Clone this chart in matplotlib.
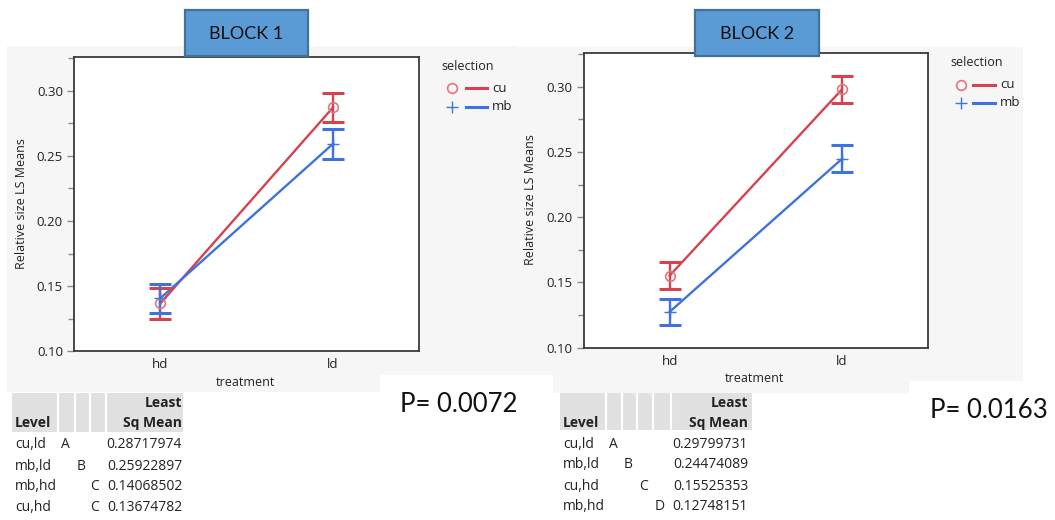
import matplotlib
matplotlib.use("Agg")
import matplotlib.pyplot as plt
from matplotlib.patches import Rectangle
from matplotlib.lines import Line2D
from matplotlib.ticker import MultipleLocator

# ---------------- data ----------------
treatments = ["hd", "ld"]
selections = ["cu", "mb"]

block1_cu = [0.13674782, 0.28717974]
block1_mb = [0.14068502, 0.25922897]
block1_cu_err = [0.0117, 0.0113]
block1_mb_err = [0.0110, 0.0115]

block2_cu = [0.15525353, 0.29799731]
block2_mb = [0.12748151, 0.24474089]
block2_cu_err = [0.0105, 0.0103]
block2_mb_err = [0.0100, 0.0103]

block_titles = ["BLOCK 1", "BLOCK 2"]
p_values = ["P= 0.0072", "P= 0.0163"]

table1_levels = ["cu,ld", "mb,ld", "mb,hd", "cu,hd"]
table1_letters = ["A", "B", "C", "C"]
table1_letter_col = [0, 1, 2, 2]
table1_means = [0.28717974, 0.25922897, 0.14068502, 0.13674782]

table2_levels = ["cu,ld", "mb,ld", "cu,hd", "mb,hd"]
table2_letters = ["A", "B", "C", "D"]
table2_letter_col = [0, 1, 2, 3]
table2_means = [0.29799731, 0.24474089, 0.15525353, 0.12748151]

# ---------------- styling ----------------
W, H = 1055, 520
RED = "#D4434F"
RED_MK = "#E07780"
BLUE = "#4172DB"
GREY_BG = "#F6F6F6"
HDR = "#E1E1E1"
TXT = "#222222"
FONT = "Open Sans"
FONT2 = "Lato"

fig = plt.figure(figsize=(W / 100, H / 100), dpi=100)
fig.patch.set_facecolor("white")


def rect(x0, y0, x1, y1, z=-5, **kw):
    r = Rectangle((x0 / W, 1 - y1 / H), (x1 - x0) / W, (y1 - y0) / H,
                  transform=fig.transFigure, zorder=z, **kw)
    fig.add_artist(r)
    return r


def text(x, y, s, **kw):
    kw.setdefault("family", FONT)
    kw.setdefault("color", TXT)
    fig.text(x / W, 1 - y / H, s, **kw)


def hline(x0, x1, y, **kw):
    fig.add_artist(Line2D([x0 / W, x1 / W], [1 - y / H, 1 - y / H],
                          transform=fig.transFigure, **kw))


def vline(x, y0, y1, **kw):
    fig.add_artist(Line2D([x / W, x / W], [1 - y0 / H, 1 - y1 / H],
                          transform=fig.transFigure, **kw))


# grey report backgrounds
rect(7, 46, 517, 392, facecolor=GREY_BG, edgecolor="none")
rect(517, 47, 1023, 381, facecolor=GREY_BG, edgecolor="none")
rect(553, 381, 909, 393, facecolor=GREY_BG, edgecolor="none")
# white P-value boxes
rect(380, 375, 553, 520, z=-4, facecolor="white", edgecolor="none")
rect(909, 381, 1055, 520, z=-4, facecolor="white", edgecolor="none")

panels = [
    dict(box=(74, 57.3, 419.4, 351.3), cu=block1_cu, mb=block1_mb,
         cu_e=block1_cu_err, mb_e=block1_mb_err,
         ylab=(22, 204), tlab=(246, 382), leg=(441, 66, 88, 107, 452, 465.5, 487, 492),
         title=(185, 10, 308, 56), p=(459, 405)),
    dict(box=(583.5, 53.3, 928.2, 347.7), cu=block2_cu, mb=block2_mb,
         cu_e=block2_cu_err, mb_e=block2_mb_err,
         ylab=(530, 200), tlab=(754.5, 378), leg=(950, 62, 85, 103, 961, 973, 995, 1000),
         title=(695, 10, 819, 56), p=(989, 411)),
]

x = list(range(len(treatments)))
for i, pn in enumerate(panels):
    l, t, r, b = pn["box"]
    ax = fig.add_axes([l / W, 1 - b / H, (r - l) / W, (b - t) / H])
    ax.set_facecolor("white")
    ax.set_xlim(-0.5, 1.5)
    ax.set_ylim(0.10, 0.3256)
    for sp in ax.spines.values():
        sp.set_color("#3a3a3a")
        sp.set_linewidth(1.3)
    ax.yaxis.set_major_locator(MultipleLocator(0.05))
    ax.yaxis.set_minor_locator(MultipleLocator(0.025))
    ax.yaxis.set_major_formatter(matplotlib.ticker.FormatStrFormatter("%.2f"))
    ax.tick_params(axis="y", which="major", length=5, width=1, color="#8a8a8a",
                   labelsize=9.5, labelcolor=TXT, pad=3)
    ax.tick_params(axis="y", which="minor", length=4, width=1, color="#8a8a8a")
    ax.set_xticks(x)
    ax.set_xticklabels(treatments)
    ax.tick_params(axis="x", length=0, labelsize=9.5, labelcolor=TXT, pad=5)
    for lab in ax.get_xticklabels() + ax.get_yticklabels():
        lab.set_family(FONT)

    for vals, errs, col, mk, mkc in [(pn["cu"], pn["cu_e"], RED, "o", RED_MK),
                                     (pn["mb"], pn["mb_e"], BLUE, "+", BLUE)]:
        ax.plot(x, vals, color=col, lw=1.7, zorder=3)
        ax.errorbar(x, vals, yerr=errs, fmt="none", ecolor=col, elinewidth=1.7,
                    capsize=8, capthick=2.2, zorder=4)
        if mk == "o":
            ax.plot(x, vals, ls="none", marker="o", ms=7, mfc="none", mec=mkc,
                    mew=1.2, zorder=5)
        else:
            ax.plot(x, vals, ls="none", marker="+", ms=9, mec=mkc, mew=1.0, zorder=5)

    # axis labels
    text(pn["ylab"][0], pn["ylab"][1], "Relative size LS Means", rotation=90,
         ha="center", va="center", fontsize=9)
    text(pn["tlab"][0], pn["tlab"][1], "treatment", ha="center", va="center", fontsize=9)

    # legend
    lx, ly, y_cu, y_mb, mx, l0, l1, tx = pn["leg"]
    text(lx, ly, "selection", ha="left", va="center", fontsize=9)
    fig.add_artist(Line2D([mx / W], [1 - y_cu / H], ls="none", marker="o", ms=7,
                          mfc="none", mec=RED_MK, mew=1.2, transform=fig.transFigure))
    fig.add_artist(Line2D([mx / W], [1 - y_mb / H], ls="none", marker="+", ms=8,
                          mec=BLUE, mew=1.0, transform=fig.transFigure))
    hline(l0, l1, y_cu, color=RED, lw=2.2)
    hline(l0, l1, y_mb, color=BLUE, lw=2.2)
    text(tx, y_cu, selections[0], ha="left", va="center", fontsize=9.5)
    text(tx, y_mb, selections[1], ha="left", va="center", fontsize=9.5)

    # title box
    x0, y0, x1, y1 = pn["title"]
    rect(x0, y0, x1, y1, z=10, facecolor="#5B9BD5", edgecolor="#41719C", linewidth=1.6)
    text((x0 + x1) / 2, (y0 + y1) / 2 + 1, block_titles[i], ha="center", va="center",
         fontsize=13, family=FONT2, color="#111111", zorder=11)

    # p value
    text(pn["p"][0], pn["p"][1], p_values[i], ha="center", va="center",
         fontsize=18.5, family=FONT2, color="#111111")


# ---------------- tables ----------------
def draw_table(x0, x1, hy0, hy1, seps, letter_x, levels, letters, cols, means,
               row_y, lvl_x, val_x):
    rect(x0, hy0, x1, hy1, z=-3, facecolor=HDR, edgecolor="none")
    rect(x0, hy1, x1, 520, z=-3, facecolor="white", edgecolor="none")
    for s in seps:
        vline(s, hy0, hy1, color="white", lw=1.5, zorder=-2)
    text(lvl_x, 423, "Level", ha="left", va="center", fontsize=10, weight="bold")
    text(val_x, 403, "Least", ha="right", va="center", fontsize=10, weight="bold")
    text(val_x, 423, "Sq Mean", ha="right", va="center", fontsize=10, weight="bold")
    for k, (lv, le, c, m) in enumerate(zip(levels, letters, cols, means)):
        text(lvl_x, row_y[k], lv, ha="left", va="center", fontsize=10)
        text(letter_x[c], row_y[k], le, ha="center", va="center", fontsize=10)
        text(val_x, row_y[k], f"{m:.8f}", ha="right", va="center", fontsize=10)


draw_table(11.7, 182.7, 392.7, 431.7, [58, 75, 90, 106], [65.7, 81, 94.3],
           table1_levels, table1_letters, table1_letter_col, table1_means,
           [445, 466, 487, 507.3], 15, 182)
draw_table(560, 751.7, 392.7, 430, [605.7, 622.3, 637.3, 653.3, 670.7],
           [613.3, 628.3, 644, 660],
           table2_levels, table2_letters, table2_letter_col, table2_means,
           [444, 465, 486, 506.7], 563, 748)

fig.savefig("out.png", dpi=100)
